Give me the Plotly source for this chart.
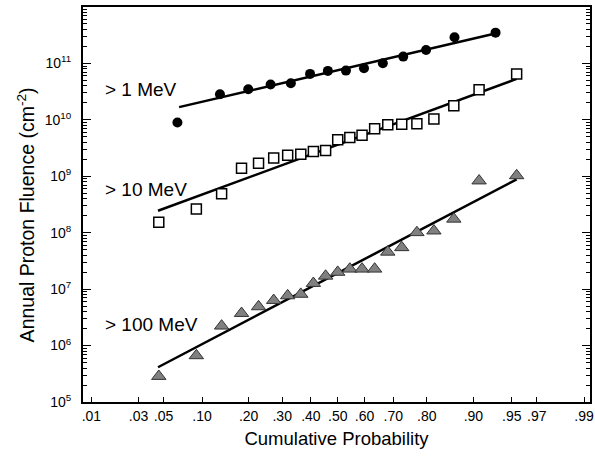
from statistics import NormalDist
import plotly.graph_objects as go

nd = NormalDist()

# ---- data ----
# cumulative probabilities (plotting positions)
p_1mev = [0.065, 0.133, 0.199, 0.263, 0.329, 0.397, 0.463, 0.531, 0.598, 0.665, 0.732, 0.798, 0.865, 0.932]
f_1mev = [8.96e9, 2.85e10, 3.49e10, 4.22e10, 4.46e10, 6.52e10, 7.37e10, 7.46e10, 8.22e10,
          1.01e11, 1.32e11, 1.73e11, 2.91e11, 3.51e11]

p_21 = [0.0455, 0.0909, 0.1364, 0.1818, 0.2273, 0.2727, 0.3182, 0.3636, 0.4091, 0.4545, 0.5,
        0.5455, 0.5909, 0.6364, 0.6818, 0.7273, 0.7727, 0.8182, 0.8636, 0.9091, 0.9545]
f_10mev = [1.53e8, 2.64e8, 4.90e8, 1.39e9, 1.71e9, 2.11e9, 2.35e9, 2.47e9, 2.74e9, 2.86e9, 4.43e9,
           4.86e9, 5.36e9, 6.99e9, 8.22e9, 8.32e9, 8.57e9, 1.04e10, 1.78e10, 3.43e10, 6.52e10]
f_100mev = [2.86e5, 6.65e5, 2.23e6, 3.73e6, 4.90e6, 6.34e6, 7.67e6, 8.16e6, 1.27e7, 1.71e7, 2.0e7,
            2.28e7, 2.28e7, 2.28e7, 4.55e7, 5.47e7, 1.01e8, 1.08e8, 1.75e8, 8.32e8, 1.03e9]

# fitted lognormal lines (end points)
fit_1mev_p = [0.067, 0.933]
fit_1mev_f = [1.68e10, 3.43e11]
fit_10mev_p = [0.0448, 0.9545]
fit_10mev_f = [2.45e8, 5.32e10]
fit_100mev_p = [0.0448, 0.9545]
fit_100mev_f = [4.13e5, 8.81e8]

x_tick_p = [0.01, 0.03, 0.05, 0.10, 0.20, 0.30, 0.40, 0.50, 0.60, 0.70, 0.80, 0.90, 0.95, 0.97, 0.99]
x_tick_labels = [".01", ".03", ".05", ".10", ".20", ".30", ".40", ".50", ".60", ".70", ".80",
                 ".90", ".95", ".97", ".99"]
y_decades = [5, 6, 7, 8, 9, 10, 11]
labels = ["> 1 MeV", "> 10 MeV", "> 100 MeV"]
x_title = "Cumulative Probability"
y_title = "Annual Proton Fluence (cm<sup>-2</sup>)"


def z(ps):
    return [nd.inv_cdf(p) for p in ps]


FONT = "Liberation Sans, Arial, Helvetica, sans-serif"

fig = go.Figure()

for fp, ff in [(fit_1mev_p, fit_1mev_f), (fit_10mev_p, fit_10mev_f), (fit_100mev_p, fit_100mev_f)]:
    fig.add_trace(go.Scatter(x=z(fp), y=ff, mode="lines", line=dict(color="black", width=2.5),
                             showlegend=False, hoverinfo="skip"))

fig.add_trace(go.Scatter(x=z(p_1mev), y=f_1mev, mode="markers", showlegend=False,
                         marker=dict(symbol="circle", size=10, color="black",
                                     line=dict(color="black", width=0))))
fig.add_trace(go.Scatter(x=z(p_21), y=f_10mev, mode="markers", showlegend=False,
                         marker=dict(symbol="square", size=10, color="white",
                                     line=dict(color="black", width=1.5))))
fig.add_trace(go.Scatter(x=z(p_21), y=f_100mev, mode="markers", showlegend=False,
                         marker=dict(symbol="triangle-up", size=12.5, color="#808080",
                                     line=dict(color="#333333", width=1))))

minor_vals = [m * 10 ** d for d in range(5, 12) for m in range(2, 10)]

fig.update_layout(
    width=595, height=459,
    margin=dict(l=83, r=5, t=7, b=57),
    paper_bgcolor="white", plot_bgcolor="white",
    font=dict(family=FONT, size=14, color="black"),
    xaxis=dict(
        range=[-2.406, 2.383], automargin=False,
        tickvals=z(x_tick_p), ticktext=x_tick_labels,
        ticks="inside", ticklen=5, tickwidth=1.2, tickcolor="black",
        showline=True, linecolor="black", linewidth=2, mirror=True,
        showgrid=False, zeroline=False,
        tickfont=dict(size=14),
        title=dict(text=x_title, font=dict(size=18.5), standoff=9),
    ),
    yaxis=dict(
        type="log", range=[5, 12], automargin=False,
        tickvals=[10 ** d for d in y_decades],
        ticktext=["10<sup>%d</sup>" % d for d in y_decades],
        ticks="inside", ticklen=8, tickwidth=1.2, tickcolor="black",
        ticklabelstandoff=7,
        showline=True, linecolor="black", linewidth=2, mirror="allticks",
        showgrid=False, zeroline=False,
        tickfont=dict(size=14),
        minor=dict(tickvals=minor_vals, ticks="inside", ticklen=4, tickwidth=1, tickcolor="black",
                   showgrid=False),
    ),
)

# y-axis title (rotated), centred where the reference puts it
fig.add_annotation(text=y_title, xref="paper", yref="paper", x=-0.112, y=0.473,
                   xanchor="center", yanchor="middle", textangle=-90, showarrow=False,
                   font=dict(size=19.5, family=FONT, color="black"))

for lab, yp in zip(labels, [0.790, 0.537, 0.195]):
    fig.add_annotation(text=lab, xref="paper", yref="paper", x=0.039, y=yp,
                       xanchor="left", yanchor="middle", showarrow=False,
                       font=dict(size=19, family=FONT, color="black"))

fig.write_html("out.html", config={"displayModeBar": False},
               post_script="document.body.style.margin='0';")
